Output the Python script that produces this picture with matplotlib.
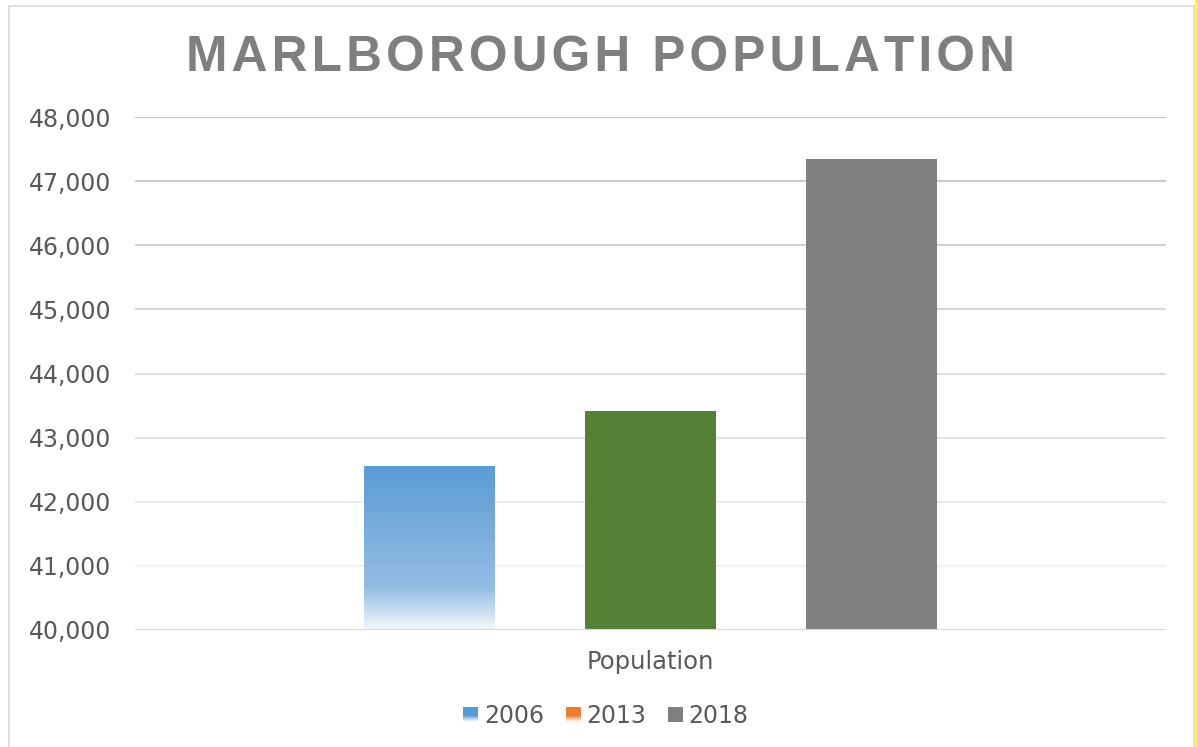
import numpy as np
import matplotlib
matplotlib.use("Agg")
import matplotlib.pyplot as plt
from matplotlib.colors import LinearSegmentedColormap, to_rgb
from matplotlib.patches import Rectangle
from matplotlib.legend_handler import HandlerBase

# Census counts for Marlborough
years = ["2006", "2013", "2018"]
population = [42558, 43416, 47340]
legend_colors = ["#5b9bd5", "#ed7d31", "#7f7f7f"]
bar_colors = [None, "#538135", "#7f7f7f"]
category = "Population"
title = "MARLBOROUGH POPULATION"

TEXT = "#595959"

# blue fill: solid at the top, lighter lower down, fading to white at the base
blue_cmap = LinearSegmentedColormap.from_list(
    "blue_fade",
    [(0.0, "#f3f7fc"), (0.20, "#a9cbea"), (0.25, "#95bde4"), (1.0, "#5b9bd5")])


def fade_cmap(color):
    c = to_rgb(color)
    return LinearSegmentedColormap.from_list(
        "fade", [(0.0, "#ffffff"), (0.3, tuple(0.6 * np.array(c) + 0.4)),
                 (0.45, c), (1.0, c)])


class GradientHandler(HandlerBase):
    "Legend key made of thin stacked strips, fading to white at the bottom"

    def __init__(self, cmap):
        super().__init__()
        self.cmap = cmap

    def create_artists(self, legend, orig_handle, xdescent, ydescent,
                       width, height, fontsize, trans):
        n = 14
        arts = []
        for i in range(n):
            r = Rectangle((-xdescent, -ydescent + height * i / n), width,
                          height / n + 0.3, facecolor=self.cmap((i + 0.5) / n),
                          edgecolor="none", transform=trans)
            arts.append(r)
        return arts


W, H = 1198, 747
fig = plt.figure(figsize=(W / 100, H / 100), dpi=100)

# chart frame and the yellow strip at the right edge
fig.patches.append(Rectangle((9 / W, -0.01), (1194 - 9) / W, 1.01 - 6 / H,
                             transform=fig.transFigure, facecolor="none",
                             edgecolor="#d9d9d9", linewidth=1.2, zorder=-1))
fig.patches.append(Rectangle((1195 / W, 0), 4 / W, 1, transform=fig.transFigure,
                             facecolor="#ffff00", edgecolor="none", zorder=-1))

ax = fig.add_axes([135 / W, (H - 630) / H, 1031 / W, 513 / H])
ax.set_facecolor("none")

pos = np.arange(len(years)) - 1.0
bw = 131 / 221
bars = ax.bar(pos, population, bw, bottom=0, color=[c or "none" for c in bar_colors],
              linewidth=0, zorder=3)

# gradient fill for the 2006 bar
b = bars[0]
grad = np.linspace(0, 1, 256).reshape(-1, 1)
im = ax.imshow(grad, cmap=blue_cmap, origin="lower", aspect="auto",
               extent=(b.get_x(), b.get_x() + bw, 40000, population[0]), zorder=3)
im.set_clip_path(b)
ax.set_xlim(-1031 / 2 / 221, 1031 / 2 / 221)
ax.set_ylim(40000, 48000)

# gridlines get lighter towards the bottom
ticks = np.arange(40000, 48001, 1000)
top = np.array(to_rgb("#c4c4c4"))
low = np.array(to_rgb("#f0f0f0"))
for v in ticks[1:]:
    t = (48000 - v) / 7000
    ax.axhline(v, color=tuple(top + (low - top) * t), linewidth=1.5, zorder=1)
ax.axhline(40000, color="#d9d9d9", linewidth=1.5, zorder=4)

for s in ax.spines.values():
    s.set_visible(False)
ax.set_yticks(ticks)
ax.set_yticklabels([f"{v:,}" for v in ticks])
ax.tick_params(axis="y", length=0, pad=17, labelsize=17, labelcolor=TEXT)
ax.set_xticks([])

fig.text(650 / W, 1 - 662 / H, category, ha="center", va="center",
         fontsize=17.5, color=TEXT)

# title letters spread a little with hair spaces
fig.text(601 / W, 1 - 58 / H, "\u200a".join(title),
         ha="center", va="center", fontsize=35.7, fontweight="bold",
         color="#7f7f7f", family="Liberation Sans")

handles = [Rectangle((0, 0), 1, 1) for _ in years]
hmap = {handles[0]: GradientHandler(fade_cmap(legend_colors[0])),
        handles[1]: GradientHandler(fade_cmap(legend_colors[1])),
        handles[2]: GradientHandler(LinearSegmentedColormap.from_list(
            "flat", [legend_colors[2], legend_colors[2]]))}
fig.legend(handles, years, handler_map=hmap, loc="center",
           bbox_to_anchor=(606 / W, 1 - 716 / H), ncol=3, frameon=False,
           fontsize=17, labelcolor=TEXT, handlelength=0.64, handleheight=0.6,
           handletextpad=0.25, columnspacing=0.9, borderpad=0)

fig.savefig("out.png", dpi=100)
